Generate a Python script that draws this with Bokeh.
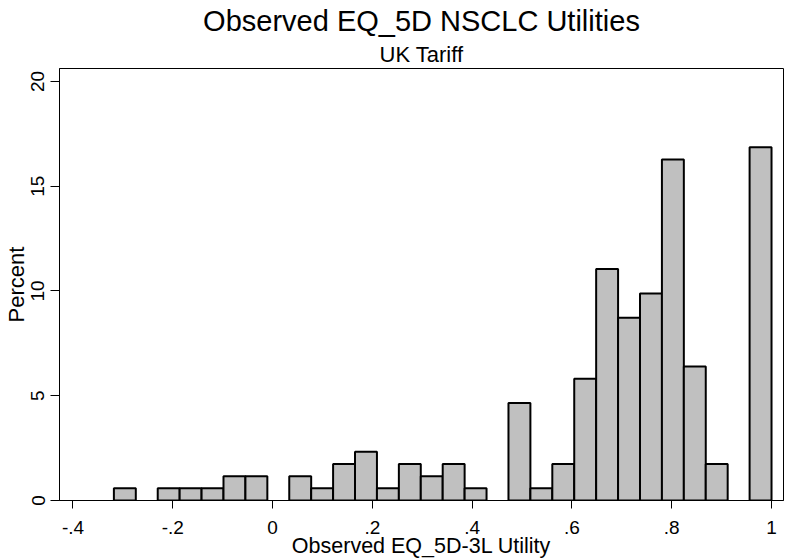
import numpy as np
from bokeh.plotting import figure
from bokeh.models import FixedTicker, Title, Range1d, ColumnDataSource
from bokeh.embed import file_html
from bokeh.resources import INLINE

# ---- data ----
percent = [0.58, 0.0, 0.58, 0.58, 0.58, 1.16, 1.16, 0.0, 1.16, 0.58,
           1.74, 2.33, 0.58, 1.74, 1.16, 1.74, 0.58, 0.0, 4.65, 0.58,
           1.74, 5.81, 11.05, 8.72, 9.88, 16.28, 6.40, 1.74, 0.0, 16.86]
bin_min = -0.318
bin_max = 1.0
x_ticks = [-0.4, -0.2, 0, 0.2, 0.4, 0.6, 0.8, 1]
x_tick_labels = ["-.4", "-.2", "0", ".2", ".4", ".6", ".8", "1"]
y_ticks = [0, 5, 10, 15, 20]
y_tick_labels = ["0", "5", "10", "15", "20"]

title_text = "Observed EQ_5D NSCLC Utilities"
subtitle_text = "UK Tariff"
x_label = "Observed EQ_5D-3L Utility"
y_label = "Percent"

FONT = "Liberation Sans"

edges = np.linspace(bin_min, bin_max, len(percent) + 1)
pct = np.array(percent)
mask = pct > 0
src = ColumnDataSource(dict(left=edges[:-1][mask], right=edges[1:][mask], top=pct[mask]))

p = figure(width=786, height=560, x_range=Range1d(-0.427, 1.024), y_range=Range1d(0, 20.62),
           output_backend="svg", toolbar_location=None, title=None,
           min_border_left=59, min_border_right=3, min_border_top=68, min_border_bottom=60)

p.quad(left="left", right="right", bottom=0, top="top", source=src,
       fill_color="#C0C0C0", line_color="black", line_width=2)

p.add_layout(Title(text=subtitle_text, align="center", text_font=FONT, text_font_size="22px",
                   text_font_style="normal", text_color="black", standoff=4), "above")
p.add_layout(Title(text=title_text, align="center", text_font=FONT, text_font_size="29px",
                   text_font_style="normal", text_color="black", standoff=2), "above")

p.xgrid.visible = False
p.ygrid.visible = False
p.outline_line_color = "black"
p.outline_line_width = 1
p.background_fill_color = "white"
p.border_fill_color = "white"

for ax in (p.xaxis[0], p.yaxis[0]):
    ax.axis_line_color = "black"
    ax.axis_line_width = 1
    ax.major_tick_line_color = "black"
    ax.major_tick_in = 0
    ax.minor_tick_line_color = None
    ax.major_label_text_font = FONT
    ax.major_label_text_font_size = "19px"
    ax.major_label_text_color = "black"
    ax.axis_label_text_font = FONT
    ax.axis_label_text_font_style = "normal"
    ax.axis_label_text_color = "black"

p.xaxis.ticker = FixedTicker(ticks=x_ticks)
p.xaxis.major_label_overrides = dict(zip(x_ticks, x_tick_labels))
p.xaxis.major_tick_out = 8
p.xaxis.major_label_standoff = 12
p.xaxis.axis_label = x_label
p.xaxis.axis_label_text_font_size = "21.5px"
p.xaxis.axis_label_standoff = -3

p.yaxis.ticker = FixedTicker(ticks=y_ticks)
p.yaxis.major_label_overrides = dict(zip(y_ticks, y_tick_labels))
p.yaxis.major_tick_out = 9
p.yaxis.major_label_standoff = 6
p.yaxis.major_label_orientation = "parallel"
p.yaxis.axis_label = y_label
p.yaxis.axis_label_text_font_size = "22px"
p.yaxis.axis_label_standoff = 0

open("out.html", "w").write(file_html(p, INLINE))
